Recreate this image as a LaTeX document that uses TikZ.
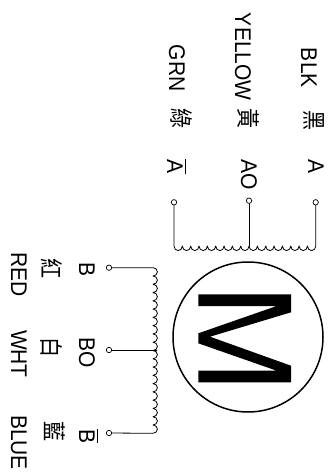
\documentclass[tikz,border=0pt]{standalone}
\usepackage{fontspec}
\setmainfont{Liberation Sans}
\newfontfamily\cjk{Noto Sans CJK TC}
\newcommand{\barred}[2]{\rlap{\rule[18pt]{#1}{0.9pt}}#2}
\newcommand{\tx}[1]{\scalebox{1}[1.08]{#1}}
\newcommand{\hz}[1]{\scalebox{1}[1.18]{#1}}
\tikzset{
  lab/.style={rotate=-90,anchor=base west,inner sep=0,outer sep=0,font=\fontsize{21}{21}\selectfont},
  han/.style={rotate=-90,anchor=base west,inner sep=0,outer sep=0,font=\cjk\fontsize{20}{20}\selectfont},
  term/.style={circle,draw,inner sep=0,minimum size=5.4pt,line width=0.7pt,fill=white},
  wire/.style={line width=0.8pt,line cap=round,line join=round}
}
\begin{document}
\begin{tikzpicture}[x=1pt,y=-1pt]
\useasboundingbox (0,0) rectangle (334,473);
% motor
\node[circle,draw,line width=1.5pt,minimum size=150pt,inner sep=0] (motor) at (248,337) {};
\fill[black] (198.3,294.3) -- (291,294.3) -- (291,312.3) -- (210,336.7) -- (291,365.7) -- (291,382.3)
  -- (198.3,382.3) -- (198.3,370.7) -- (276.7,370.7) -- (198.3,343.3) -- (198.3,333.3) -- (276.7,306) -- (198.3,306) -- cycle;
% terminals
\node[term] (ta) at (315.7,202.3) {};
\node[term] (tao) at (249,200.7) {};
\node[term] (tab) at (174,202.3) {};
\node[term] (tb) at (109,267.7) {};
\node[term] (tbo) at (109,350) {};
\node[term] (tbb) at (109,433) {};
% coils
\coordinate (a0) at (249,246);
\coordinate (b0) at (157,350);
\draw[wire] (tab) -- (174,246) foreach \i in {1,...,17}{ arc[start angle=180,end angle=360,x radius=4.17,y radius=-4.6] } -- (ta);
\draw[wire] (tao) -- (a0);
\draw[wire] (tb) -- (153,267.7) foreach \i in {1,...,20}{ arc[start angle=90,end angle=-90,x radius=4.4,y radius=-4.14] } -- (tbb);
\draw[wire] (tbo) -- (b0);
% labels
\node[lab] (l1) at (301,48) {\tx{BLK}};
\node[han] (h1) at (305,111) {\hz{黑}};
\node[lab] (l2) at (308,159.5) {\tx{A}};
\node[lab] (l3) at (235,13) {\tx{YELLOW}};
\node[han] (h2) at (239.5,109) {\hz{黃}};
\node[lab] (l4) at (241,159.5) {\tx{AO}};
\node[lab] (l5) at (169,45) {\tx{GRN}};
\node[han] (h3) at (172.5,109) {\hz{綠}};
\node[lab] (l6) at (167,159.5) {\barred{14pt}{\tx{A}}};
\node[lab] (l7) at (79,262.5) {\tx{B}};
\node[han] (h4) at (42.5,258.5) {\hz{紅}};
\node[lab] (l8) at (11,252) {\tx{RED}};
\node[lab] (l9) at (79,337) {\tx{BO}};
\node[han] (h5) at (42.5,337) {\hz{白}};
\node[lab] (l10) at (11,330) {\tx{WHT}};
\node[lab] (l11) at (79,429) {\barred{14pt}{\tx{B}}};
\node[han] (h6) at (45,421) {\hz{藍}};
\node[lab] (l12) at (11,415) {\tx{BLUE}};
\end{tikzpicture}
\end{document}
